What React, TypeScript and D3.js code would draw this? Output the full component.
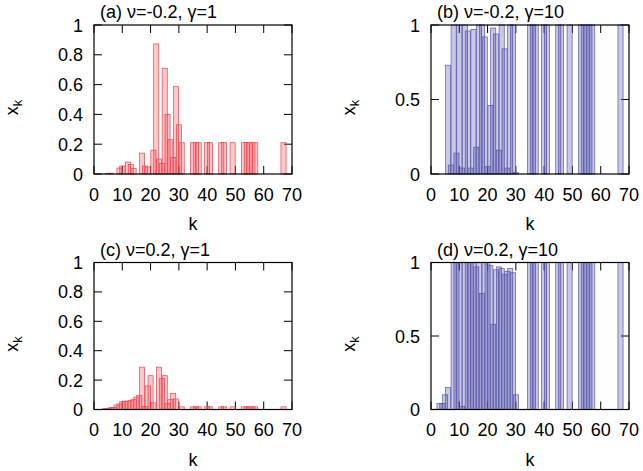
import React from 'react';
import * as d3 from 'd3';

// ---- data ----
const xTicks = [0, 10, 20, 30, 40, 50, 60, 70];
const yTicksFine = [0, 0.2, 0.4, 0.6, 0.8, 1];
const yTicksCoarse = [0, 0.5, 1];

// panel (a) nu=-0.2, gamma=1
const kA = [5, 6, 9, 10, 12, 13, 14, 17, 18, 19, 21, 22, 23, 24, 25, 26, 27, 28, 29, 30, 31,
  35, 36, 37, 40, 41, 45, 46, 49, 53, 54, 55, 56, 57, 67];
const vA = [0.005, 0.005, 0.04, 0.054, 0.08, 0.063, 0.036, 0.14, 0.054, 0.047, 0.16, 0.873, 0.10, 0.07,
  0.71, 0.40, 0.23, 0.11, 0.586, 0.33, 0.21,
  0.21, 0.21, 0.21, 0.21, 0.21, 0.21, 0.21, 0.21, 0.21, 0.21, 0.21, 0.21, 0.21, 0.21];

// panel (b) nu=-0.2, gamma=10
const kB = [6, 7, 8, 9, 10, 11, 12, 13, 14, 15, 16, 17, 18, 19, 20, 21, 22, 23, 24, 25, 26, 27, 28, 29, 30,
  35, 36, 37, 40, 41, 45, 46, 49, 53, 54, 55, 56, 57, 67];
const vB = [0.73, 0.06, 1, 0.14, 1, 0.04, 1, 0.96, 0.04, 0.97, 0.18, 1, 1, 0.92, 0.05, 0.46, 0.98, 0.94,
  0.16, 1, 0.84, 0.04, 1, 1, 0.01,
  1, 1, 1, 1, 1, 1, 1, 1, 1, 1, 1, 1, 1, 1];

// panel (c) nu=0.2, gamma=1
const kC = [4, 5, 6, 7, 8, 9, 10, 11, 12, 13, 14, 15, 16, 17, 18, 19, 20, 21, 23, 24, 25, 26, 27, 28, 29, 31,
  35, 36, 37, 40, 41, 45, 46, 49, 53, 54, 55, 56, 57, 67];
const vC = [0.007, 0.007, 0.012, 0.014, 0.03, 0.038, 0.053, 0.057, 0.057, 0.06, 0.07, 0.084, 0.095, 0.288,
  0.02, 0.16, 0.23, 0.045, 0.288, 0.21, 0.23, 0.04, 0.068, 0.11, 0.072, 0.018,
  0.018, 0.018, 0.018, 0.018, 0.018, 0.018, 0.018, 0.018, 0.018, 0.018, 0.018, 0.018, 0.018, 0.018];

// panel (d) nu=0.2, gamma=10
const kD = [3, 4, 5, 6, 8, 9, 10, 11, 12, 13, 14, 15, 16, 17, 18, 19, 20, 21, 22, 23, 24, 25, 26, 27, 28, 29, 30,
  35, 36, 37, 40, 41, 45, 46, 49, 53, 54, 55, 56, 57, 67];
const vD = [0.04, 0.04, 0.1, 0.15, 1, 1, 1, 0.02, 1, 1, 1, 1, 0.97, 1, 0.79, 1, 0.99, 0.98, 0.58, 0.95,
  0.97, 0.96, 0.92, 0.94, 0.96, 0.93, 0.1,
  1, 1, 1, 1, 1, 1, 1, 1, 1, 1, 1, 1, 1, 1];

const FONT = "'Liberation Sans', Arial, Helvetica, sans-serif";
const BOX_W = 1.8;

type PanelProps = {
  left: number; top: number; right: number; bottom: number;
  ks: number[]; vs: number[]; yTicks: number[];
  fill: string; stroke: string;
  label: string; nu: string; gamma: string;
};

function Panel(p: PanelProps) {
  const x = d3.scaleLinear().domain([0, 70]).range([p.left, p.right]);
  const y = d3.scaleLinear().domain([0, 1]).range([p.bottom, p.top]);
  const tl = 8;
  const fs = 18;
  return (
    <g>
      {xTicks.map((t) => (
        <g key={'xt' + t}>
          <line x1={x(t)} x2={x(t)} y1={p.bottom} y2={p.bottom - tl} stroke="#000" strokeWidth={1} />
          <line x1={x(t)} x2={x(t)} y1={p.top} y2={p.top + tl} stroke="#000" strokeWidth={1} />
          <text x={x(t)} y={p.bottom + 26.5} textAnchor="middle" fontSize={fs} fontFamily={FONT}>{t}</text>
        </g>
      ))}
      {p.yTicks.map((t) => (
        <g key={'yt' + t}>
          <line x1={p.left} x2={p.left + tl} y1={y(t)} y2={y(t)} stroke="#000" strokeWidth={1} />
          <line x1={p.right} x2={p.right - tl} y1={y(t)} y2={y(t)} stroke="#000" strokeWidth={1} />
          <text x={p.left - 11} y={y(t) + 6.5} textAnchor="end" fontSize={fs} fontFamily={FONT}>{String(t)}</text>
        </g>
      ))}
      {p.ks.map((k, i) => (
        <rect key={'b' + i}
          x={x(k - BOX_W / 2)} y={y(p.vs[i])}
          width={x(k + BOX_W / 2) - x(k - BOX_W / 2)} height={y(0) - y(p.vs[i])}
          fill={p.fill} stroke={p.stroke} strokeWidth={0.7} />
      ))}
      <rect x={p.left} y={p.top} width={p.right - p.left} height={p.bottom - p.top}
        fill="none" stroke="#000" strokeWidth={1.2} />
      <text x={(p.left + p.right) / 2} y={p.bottom + 56} textAnchor="middle" fontSize={fs} fontFamily={FONT}>k</text>
      <text transform={`translate(${p.left - 76},${(p.top + p.bottom) / 2 + 8}) rotate(-90)`}
        fontSize={fs} fontFamily={FONT} textAnchor="middle">
        x<tspan fontSize={13} dy={4}>k</tspan>
      </text>
      <text x={p.left + 6} y={p.top - 7} fontSize={fs} fontFamily={FONT}>
        {`(${p.label}) \u03BD=${p.nu}, \u03B3=${p.gamma}`}
      </text>
    </g>
  );
}

export default function App() {
  const pink = 'rgba(255,40,50,0.25)';
  const red = '#e4444f';
  const lav = 'rgba(40,40,160,0.25)';
  const blue = '#5a5aa6';
  return (
    <svg width={643} height={471} style={{ position: 'absolute', left: 0, top: 0, background: '#fff' }}>
      <rect x={0} y={0} width={643} height={471} fill="#fff" />
      <Panel left={94} right={292} top={25} bottom={174} ks={kA} vs={vA} yTicks={yTicksFine}
        fill={pink} stroke={red} label="a" nu="-0.2" gamma="1" />
      <Panel left={431} right={629} top={25} bottom={174} ks={kB} vs={vB} yTicks={yTicksCoarse}
        fill={lav} stroke={blue} label="b" nu="-0.2" gamma="10" />
      <Panel left={94} right={292} top={262.5} bottom={409.5} ks={kC} vs={vC} yTicks={yTicksFine}
        fill={pink} stroke={red} label="c" nu="0.2" gamma="1" />
      <Panel left={431} right={629} top={262.5} bottom={409.5} ks={kD} vs={vD} yTicks={yTicksCoarse}
        fill={lav} stroke={blue} label="d" nu="0.2" gamma="10" />
    </svg>
  );
}
